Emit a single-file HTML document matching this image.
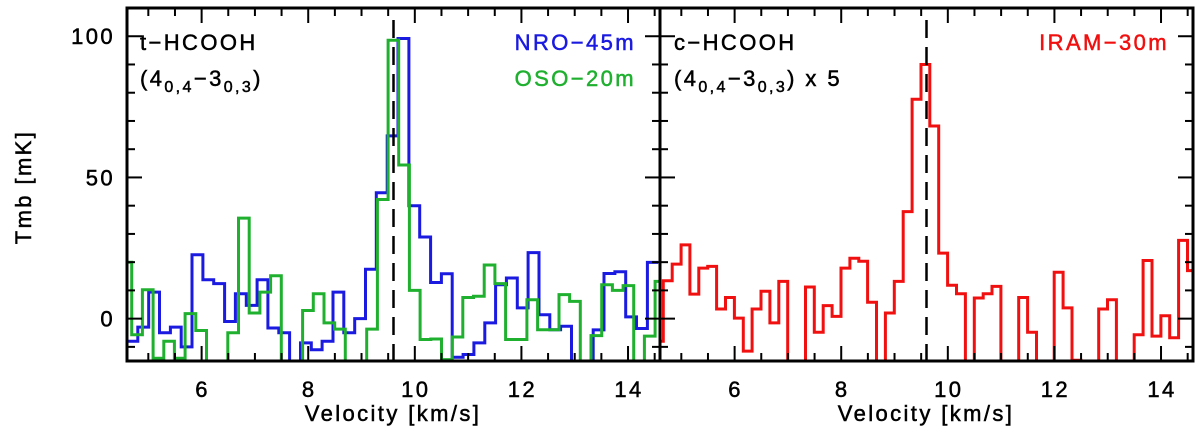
<!DOCTYPE html>
<html><head><meta charset="utf-8"><style>
html,body{margin:0;padding:0;background:#fff;}
svg{display:block;font-family:"Liberation Sans",sans-serif;}
svg text{letter-spacing:2.4px;stroke-width:0.5px;}
</style></head><body>
<svg id="chart" width="1200" height="433" viewBox="0 0 1200 433" xmlns="http://www.w3.org/2000/svg">
<defs>
<clipPath id="clipL"><rect x="127" y="8" width="533" height="353"/></clipPath>
<clipPath id="clipR"><rect x="660" y="8" width="533" height="353"/></clipPath>
</defs>
<g id="gL" clip-path="url(#clipL)"></g>
<g id="gR" clip-path="url(#clipR)"></g>
<g id="axes"></g>
<text x="31" y="187" font-size="22" stroke="#000" text-anchor="middle" transform="rotate(-90 31 187)">Tmb [mK]</text>
<text x="393" y="421" font-size="22" stroke="#000" text-anchor="middle">Velocity [km/s]</text>
<text x="926" y="421" font-size="22" stroke="#000" text-anchor="middle">Velocity [km/s]</text>
<text x="140" y="50" font-size="22" stroke="#000">t−HCOOH</text>
<text x="140" y="86" font-size="22" stroke="#000">(4<tspan font-size="16" dy="6">0,4</tspan><tspan dy="-6">−3</tspan><tspan font-size="16" dy="6">0,3</tspan><tspan dy="-6">)</tspan></text>
<text x="636" y="50" font-size="22" fill="#1a1ae0" stroke="#1a1ae0" text-anchor="end">NRO−45m</text>
<text x="636" y="86" font-size="22" fill="#20b030" stroke="#20b030" text-anchor="end">OSO−20m</text>
<text x="674" y="50" font-size="22" stroke="#000">c−HCOOH</text>
<text x="674" y="86" font-size="22" stroke="#000">(4<tspan font-size="16" dy="6">0,4</tspan><tspan dy="-6">−3</tspan><tspan font-size="16" dy="6">0,3</tspan><tspan dy="-6">) x 5</tspan></text>
<text x="1169" y="50" font-size="22" fill="#f01010" stroke="#f01010" text-anchor="end">IRAM−30m</text>
</svg>
<script>
const xTicks=[6,8,10,12,14];
const yTicks=[0,50,100];
const blueStart=4.6, blueWidth=0.2034;
const blueValues=[-8,-3,9.4,-5,-3,-10,22.6,13.8,12.4,-1,8.8,4.7,13.8,-3.3,-5,-16,-8.6,-11,-8,9.4,-5,0,17.5,44.6,64.7,99.2,40,28.9,12.8,15.9,-13.7,-12.7,-8.6,-1.5,12,14.4,3.8,23.4,1.4,-3.9,-2.7,-15,-17,-4,16,16.6,0.6,-3.5,19.9];
const greenStart=4.488, greenWidth=0.2004;
const greenValues=[20,-5.7,10.2,-14,-8,-14,1.8,-4.2,-17,-17,-5,35.6,2,9.4,15.2,-17,-17,2.9,8.8,-1.5,-3.7,-17,-17,-3.7,42.2,98.6,54.4,10,-7.4,-7.2,-14.5,-6.5,7.5,7.9,19,12.4,-7.4,-7.4,6.7,-3.9,-3.9,8.5,6.1,-17,-6,12,10,11.7,-17,-6.2,13.2];
const redStart=4.495, redWidth=0.1667;
const redValues=[-8,13.4,19.3,26.1,8.7,17.9,18.5,3.4,7.5,0.2,-11.5,3.4,9.7,-1.5,13.2,-17,-17,11.2,-4.8,4.6,0.8,17.9,21.4,20.3,5.8,-17,2,13.2,37.9,77.7,90,68.2,23.2,11.8,8.8,-17,7.3,8.8,11.4,-17,-17,7.5,-4.8,-17,-17,16.4,3.8,-14.7,-17,-17,3.4,6.7,-17,-17,-5.7,20.6,-6.2,1,-6.8,27.7,17];
const vLine=9.6;
const NS="http://www.w3.org/2000/svg";
const X0=4.6,X1=14.6,Y0=-15,Y1=110,PW=533,TOP=8,BOT=361;
const panels=[127,660];
function xs(v,p){return panels[p]+(v-X0)/(X1-X0)*PW;}
function ys(t){return BOT-(t-Y0)/(Y1-Y0)*(BOT-TOP);}
function mk(tag,attrs,parent){const e=document.createElementNS(NS,tag);for(const k in attrs)e.setAttribute(k,attrs[k]);parent.appendChild(e);return e;}
function stepPath(start,w,vals,p){
  let d="";
  vals.forEach((v,i)=>{const xa=xs(start+i*w,p),xb=xs(start+(i+1)*w,p),y=ys(v);
    d+=(i===0?"M":"L")+xa.toFixed(1)+","+y.toFixed(1)+"L"+xb.toFixed(1)+","+y.toFixed(1);});
  return d;
}
const gL=document.getElementById('gL'),gR=document.getElementById('gR'),ax=document.getElementById('axes');
let p1=mk('path',{d:stepPath(blueStart,blueWidth,blueValues,0),fill:'none',stroke:'#1a1ae0','stroke-width':3},gL);


let p2=mk('path',{d:stepPath(greenStart,greenWidth,greenValues,0),fill:'none',stroke:'#20b030','stroke-width':3},gL);


let p3=mk('path',{d:stepPath(redStart,redWidth,redValues,1),fill:'none',stroke:'#f01010','stroke-width':3},gR);


[0,1].forEach(p=>{
  const dl=mk('line',{x1:xs(vLine,p),x2:xs(vLine,p),y1:TOP+12,y2:BOT,stroke:'#000','stroke-width':2.5,'stroke-dasharray':'18,9'},ax);
  
  
  const fr=mk('rect',{x:panels[p],y:TOP,width:PW,height:BOT-TOP,fill:'none',stroke:'#000','stroke-width':3},ax);
  
  
  for(let v=5;v<=14.5;v+=0.5){
    const major=xTicks.includes(v);const L=major?15:8;const x=xs(v,p);
    mk('line',{x1:x,x2:x,y1:BOT,y2:BOT-L,stroke:'#000','stroke-width':2},ax);
    mk('line',{x1:x,x2:x,y1:TOP,y2:TOP+L,stroke:'#000','stroke-width':2},ax);
  }
  xTicks.forEach(v=>{const t=mk('text',{x:xs(v,p)+1,y:397,'font-size':22,'text-anchor':'middle',stroke:'#000'},ax);t.textContent=v;
    
    });
  for(let t=-10;t<=100;t+=10){
    const major=yTicks.includes(t);const L=major?15:8;const y=ys(t);
    mk('line',{x1:panels[p],x2:panels[p]+L,y1:y,y2:y,stroke:'#000','stroke-width':2},ax);
    mk('line',{x1:panels[p]+PW,x2:panels[p]+PW-L,y1:y,y2:y,stroke:'#000','stroke-width':2},ax);
  }
});
yTicks.forEach(t=>{const e=mk('text',{x:115,y:ys(t)+8,'font-size':22,'text-anchor':'end',stroke:'#000'},ax);e.textContent=t;
  
  });
</script>
</body></html>
